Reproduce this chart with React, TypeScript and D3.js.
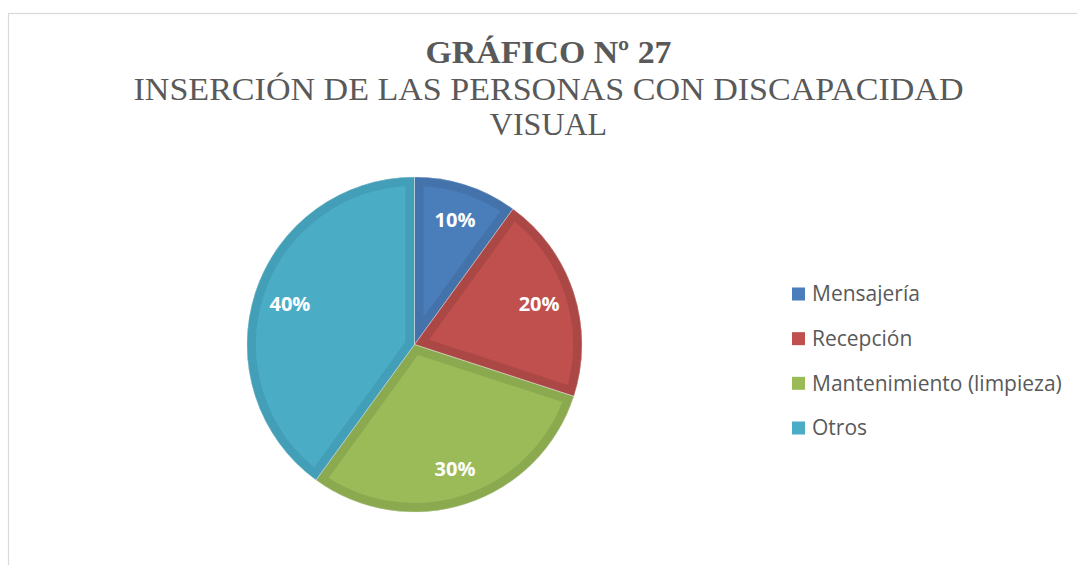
import React from "react";
import * as d3 from "d3";

const categories = ["Mensajería", "Recepción", "Mantenimiento (limpieza)", "Otros"];
const values = [10, 20, 30, 40];
const labels = ["10%", "20%", "30%", "40%"];
const fills = ["#4a7ebb", "#c0504d", "#9bbb59", "#4bacc6"];
const edges = ["#4473ab", "#ab4845", "#8baa50", "#439fb7"];

const W = 1077, H = 565;
const cx = 414.5, cy = 344.5, R = 167.5;

export default function App() {
  const pie = d3.pie<number>().sort(null).value((d) => d);
  const arcs = pie(values);
  const arc = d3.arc<d3.PieArcDatum<number>>().innerRadius(0).outerRadius(R);
  const labelArc = d3.arc<d3.PieArcDatum<number>>().innerRadius(131).outerRadius(131);
  const legendY = d3.scaleLinear().domain([0, 3]).range([294, 428]);

  return (
    <svg width={W} height={H} style={{ position: "absolute", left: 0, top: 0 }}>
      <rect x={0} y={0} width={W} height={H} fill="#fff" />
      <rect x={8.5} y={13.5} width={1100} height={600} fill="none" stroke="#d9d9d9" strokeWidth={1.2} />
      <g fontFamily="'Liberation Serif', 'Times New Roman', serif" fill="#595959" textAnchor="middle">
        <text x={548.5} y={63} fontSize={32} fontWeight="bold" textLength={246} lengthAdjust="spacingAndGlyphs">GRÁFICO Nº 27</text>
        <text x={548.5} y={100} fontSize={32} textLength={830} lengthAdjust="spacingAndGlyphs">INSERCIÓN DE LAS PERSONAS CON DISCAPACIDAD</text>
        <text x={548.5} y={135} fontSize={32}>VISUAL</text>
      </g>
      <defs>
        {arcs.map((a, i) => (
          <clipPath id={`clip${i}`} key={i}>
            <path d={arc(a) || ""} />
          </clipPath>
        ))}
      </defs>
      <g transform={`translate(${cx},${cy})`}>
        {arcs.map((a, i) => (
          <g key={i}>
            <path d={arc(a) || ""} fill={fills[i]} />
            <path d={arc(a) || ""} fill="none" stroke={edges[i]} strokeWidth={18} clipPath={`url(#clip${i})`} />
          </g>
        ))}
        {arcs.map((a, i) => (
          <path key={"s" + i} d={arc(a) || ""} fill="none" stroke="#e8e8e8" strokeWidth={0.6} strokeOpacity={0.6} />
        ))}
        {arcs.map((a, i) => {
          const [x, y] = labelArc.centroid(a);
          return (
            <text key={"l" + i} x={x} y={y} dy="0.36em" textAnchor="middle" fill="#fff"
              fontFamily="'Open Sans', sans-serif" fontWeight="bold" fontSize={20}>
              {labels[i]}
            </text>
          );
        })}
      </g>
      <g fontFamily="'Open Sans', sans-serif" fontSize={21} fill="#595959">
        {categories.map((c, i) => (
          <g key={c}>
            <rect x={792} y={legendY(i) - 6.5} width={13} height={13} fill={fills[i]} />
            <text x={812} y={legendY(i)} dy="0.35em">{c}</text>
          </g>
        ))}
      </g>
    </svg>
  );
}
